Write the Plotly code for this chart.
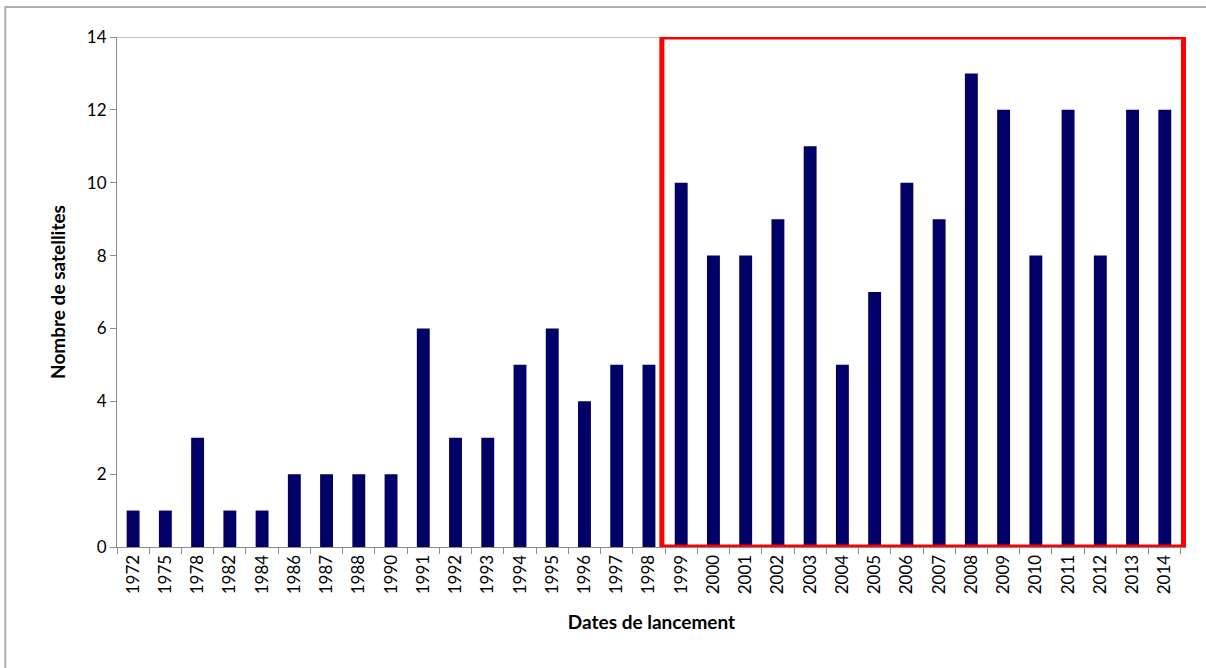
import plotly.graph_objects as go

years = ["1972","1975","1978","1982","1984","1986","1987","1988","1990","1991","1992","1993",
         "1994","1995","1996","1997","1998","1999","2000","2001","2002","2003","2004","2005",
         "2006","2007","2008","2009","2010","2011","2012","2013","2014"]
counts = [1,1,3,1,1,2,2,2,2,6,3,3,5,6,4,5,5,10,8,8,9,11,5,7,10,9,13,12,8,12,8,12,12]
y_ticks = [0, 2, 4, 6, 8, 10, 12, 14]
highlight_start = "1999"

FONT = "Lato"
AXIS_COLOR = "#8c8c8c"

fig = go.Figure(go.Bar(x=years, y=counts, marker=dict(color="#000066", line=dict(width=0)),
                       width=0.4))

hs = years.index(highlight_start) - 0.5
fig.add_shape(type="rect", xref="x", yref="y", x0=hs - 0.1, x1=len(years) - 0.5 + 0.08, y0=0, y1=14,
              line=dict(color="#ff0000", width=5), layer="above")
# top border of plot area
fig.add_shape(type="line", xref="paper", yref="y", x0=0, x1=1, y0=14, y1=14,
              line=dict(color=AXIS_COLOR, width=1), layer="below")
# outer chart border (left & top)
fig.add_shape(type="rect", xref="paper", yref="paper", x0=-0.1045, x1=3, y0=-3, y1=1.0588,
              line=dict(color="#b0b0b0", width=2), layer="below")

fig.update_layout(
    width=1206, height=668,
    margin=dict(l=117, r=20, t=37, b=121),
    paper_bgcolor="white", plot_bgcolor="white",
    showlegend=False,
    font=dict(family=FONT, color="#000000", size=14),
    xaxis=dict(type="category", tickangle=-90, showline=True, linecolor=AXIS_COLOR, linewidth=1,
               ticks="outside", ticklen=6, tickcolor=AXIS_COLOR, tickson="boundaries",
               tickfont=dict(size=17, family=FONT), automargin=False,
               title=dict(text="<b>Dates de lancement</b>", font=dict(size=19, family=FONT), standoff=22),
               showgrid=False, zeroline=False),
    yaxis=dict(range=[0, 14], tickvals=y_ticks, showline=True, linecolor=AXIS_COLOR, linewidth=1,
               ticks="outside", ticklen=6, tickcolor=AXIS_COLOR, automargin=False,
               tickfont=dict(size=17, family=FONT),
               title=dict(text="<b>Nombre de satellites</b>", font=dict(size=19, family=FONT), standoff=16),
               showgrid=False, zeroline=False),
)

fig.write_html("out.html", config={"displayModeBar": False},
               post_script="document.body.style.margin='0';")
